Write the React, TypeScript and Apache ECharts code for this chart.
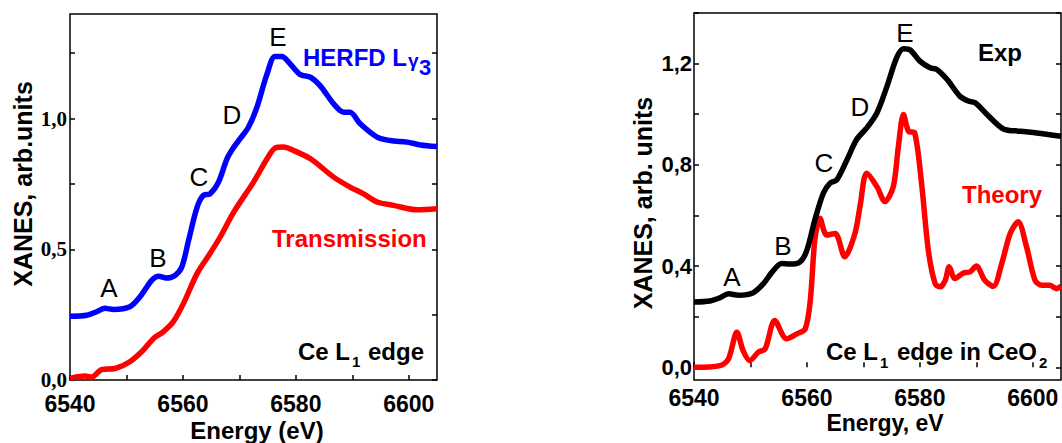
import React, { useEffect, useRef } from 'react';
import * as echarts from 'echarts';

// Left panel: HERFD Lγ3 (blue) and Transmission (red)
const herfdE = [6540, 6543, 6544.7, 6546.2, 6547.7, 6550.6, 6552.4, 6554.5, 6555.7, 6557.1, 6558.6, 6559.8, 6561.0, 6562.5, 6563.6, 6564.8, 6566.3, 6567.8, 6569.0, 6570.1, 6571.6, 6573.1, 6574.9, 6576.3, 6577.5, 6579.0, 6580.8, 6582.6, 6584.3, 6586.7, 6588.5, 6589.6, 6591.4, 6594.4, 6596.7, 6599.7, 6602.1, 6605];
const herfdY = [0.244, 0.248, 0.261, 0.274, 0.27, 0.28, 0.318, 0.382, 0.397, 0.39, 0.40, 0.432, 0.534, 0.66, 0.706, 0.712, 0.757, 0.846, 0.89, 0.922, 0.967, 1.043, 1.171, 1.237, 1.237, 1.209, 1.168, 1.158, 1.126, 1.056, 1.024, 1.024, 0.98, 0.929, 0.916, 0.91, 0.899, 0.893];

const transE = [6540, 6542.7, 6543.8, 6545.6, 6548.0, 6550.6, 6553.0, 6554.8, 6556.5, 6558.3, 6560.1, 6562.5, 6564.8, 6566.6, 6569.0, 6572.5, 6574.9, 6576.3, 6577.8, 6579.6, 6582.6, 6586.7, 6589.6, 6592.0, 6594.4, 6597.3, 6601.5, 6605];
const transY = [0.006, 0.015, 0.011, 0.04, 0.044, 0.07, 0.115, 0.159, 0.184, 0.223, 0.293, 0.407, 0.484, 0.547, 0.642, 0.757, 0.846, 0.887, 0.891, 0.878, 0.846, 0.776, 0.738, 0.712, 0.681, 0.668, 0.651, 0.655];

// Right panel: Exp (black) and Theory (red)
const expE = [6540, 6542.8, 6544.6, 6546.1, 6547.9, 6550.5, 6552.3, 6554.0, 6555.5, 6557.0, 6558.8, 6560.0, 6561.4, 6562.9, 6564.1, 6565.3, 6567.1, 6568.8, 6570.6, 6572.4, 6574.1, 6575.9, 6577.1, 6578.3, 6580.0, 6581.8, 6583.0, 6584.8, 6587.1, 6588.6, 6589.8, 6591.9, 6594.8, 6597.8, 6600.7, 6605];
const expY = [0.258, 0.262, 0.275, 0.291, 0.285, 0.295, 0.331, 0.381, 0.41, 0.408, 0.417, 0.463, 0.582, 0.688, 0.728, 0.741, 0.82, 0.9, 0.946, 1.005, 1.105, 1.224, 1.259, 1.254, 1.21, 1.184, 1.177, 1.138, 1.071, 1.052, 1.045, 0.999, 0.942, 0.933, 0.926, 0.913];

const theoryE = [6540, 6544.6, 6546.1, 6547.6, 6548.7, 6549.9, 6551.4, 6552.6, 6554.3, 6556.4, 6558.2, 6559.7, 6560.6, 6561.4, 6562.3, 6563.5, 6565.0, 6566.7, 6568.5, 6569.4, 6570.6, 6572.4, 6573.8, 6575.3, 6576.2, 6577.1, 6578.0, 6579.1, 6580.3, 6581.5, 6582.7, 6583.6, 6584.5, 6585.2, 6586.2, 6587.7, 6588.9, 6590.0, 6591.5, 6593.0, 6594.5, 6596.0, 6597.4, 6598.9, 6600.4, 6601.6, 6603.0, 6604.2, 6605];
const theoryY = [0.0, 0.007, 0.033, 0.139, 0.066, 0.027, 0.06, 0.073, 0.185, 0.113, 0.132, 0.152, 0.265, 0.503, 0.589, 0.523, 0.529, 0.437, 0.529, 0.635, 0.767, 0.714, 0.655, 0.714, 0.873, 0.999, 0.933, 0.926, 0.728, 0.463, 0.331, 0.318, 0.344, 0.397, 0.351, 0.373, 0.377, 0.4, 0.344, 0.32, 0.41, 0.529, 0.575, 0.476, 0.344, 0.324, 0.324, 0.311, 0.32];

const xTickValues = [6540, 6550, 6560, 6570, 6580, 6590, 6600];
const xLabelValues = [6540, 6560, 6580, 6600];
const leftYTicks = [0, 0.25, 0.5, 0.75, 1.0, 1.25];
const leftYLabels = [0, 0.5, 1.0];
const rightYTicks = [0, 0.2, 0.4, 0.6, 0.8, 1.0, 1.2, 1.4];
const rightYLabels = [0, 0.4, 0.8, 1.2];

const SANS = '"Liberation Sans", Arial, sans-serif';
const SERIF = '"Liberation Serif", "Times New Roman", serif';

const zip = (xs: number[], ys: number[]) => xs.map((x, i) => [x, ys[i]]);
const comma = (v: number) => v.toFixed(1).replace('.', ',');

function txt(text: string, x: number, y: number, size: number, color = '#000', weight: any = 'bold', align = 'left', rotation = 0, family = SANS) {
  return {
    type: 'text', x, y, rotation,
    style: { text, fill: color, fontSize: size, fontWeight: weight, fontFamily: family, align, verticalAlign: 'middle' },
  };
}

export default function App() {
  const ref = useRef<HTMLDivElement>(null);
  useEffect(() => {
    document.body.style.margin = '0';
    const chart = echarts.init(ref.current!, null, { renderer: 'svg' });
    const tick = { inside: true, length: 5, lineStyle: { color: '#000', width: 1.5 } };
    const xAxisBase = (gridIndex: number, margin: number) => ({
      type: 'value', gridIndex, min: 6540, max: 6605,
      axisLine: { show: false },
      splitLine: { show: false },
      axisTick: { ...tick, customValues: xTickValues },
      axisLabel: {
        customValues: xLabelValues, margin,
        formatter: (v: number) => String(Math.round(v)),
        fontSize: 23, fontWeight: 'bold', fontFamily: SANS, color: '#000',
      },
    });
    const yAxisBase = (gridIndex: number, min: number, ticks: number[], labels: number[], family: string, position: string, showLabel: boolean, margin: number, size: number) => ({
      type: 'value', gridIndex, min, max: 1.4, position,
      axisLine: { show: false },
      splitLine: { show: false },
      axisTick: { ...tick, customValues: ticks },
      axisLabel: {
        show: showLabel, customValues: labels, margin,
        formatter: (v: number) => comma(v),
        fontSize: size, fontWeight: 'bold', fontFamily: family, color: '#000',
      },
    });
    const lineSeries = (xi: number, yi: number, data: number[][], color: string, z: number) => ({
      type: 'line', xAxisIndex: xi, yAxisIndex: yi, data, showSymbol: false, smooth: 0.3,
      lineStyle: { color, width: 5.5 }, z, silent: true,
    });

    chart.setOption({
      animation: false,
      grid: [
        { left: 70, top: 14, width: 367, height: 366, show: true, borderColor: '#000', borderWidth: 1.5, backgroundColor: 'transparent' },
        { left: 694, top: 13, width: 367, height: 367, show: true, borderColor: '#000', borderWidth: 1.5, backgroundColor: 'transparent' },
      ],
      xAxis: [xAxisBase(0, 12), xAxisBase(1, 6)],
      yAxis: [
        yAxisBase(0, 0, leftYTicks, leftYLabels, SERIF, 'left', true, 3, 21),
        yAxisBase(0, 0, leftYTicks, leftYLabels, SERIF, 'right', false, 3, 21),
        yAxisBase(1, -0.05, rightYTicks, rightYLabels, SANS, 'left', true, 2, 22),
        yAxisBase(1, -0.05, rightYTicks, rightYLabels, SANS, 'right', false, 2, 22),
      ],
      series: [
        lineSeries(0, 0, zip(transE, transY), '#ff0000', 2),
        lineSeries(0, 0, zip(herfdE, herfdY), '#0000ff', 3),
        lineSeries(1, 2, zip(theoryE, theoryY), '#ff0000', 2),
        lineSeries(1, 2, zip(expE, expY), '#000000', 3),
      ],
      graphic: [
        // axis titles
        txt('XANES, arb.units', 23, 184, 25, '#000', 'bold', 'center', Math.PI / 2),
        txt('XANES, arb. units', 643, 203, 25, '#000', 'bold', 'center', Math.PI / 2),
        txt('Energy (eV)', 257, 430, 24, '#000', 'bold', 'center'),
        txt('Energy, eV', 885, 423, 23, '#000', 'bold', 'center'),
        // left annotations
        txt('A', 109, 288, 26, '#000', 'normal', 'center'),
        txt('B', 158, 258, 26, '#000', 'normal', 'center'),
        txt('C', 199, 177, 26, '#000', 'normal', 'center'),
        txt('D', 232, 115, 26, '#000', 'normal', 'center'),
        txt('E', 278, 37, 26, '#000', 'normal', 'center'),
        txt('HERFD L', 303, 57, 24, '#0000ff'),
        txt('γ', 408, 60, 19, '#0000ff'),
        txt('3', 419, 67, 22, '#0000ff'),
        txt('Transmission', 272, 238, 24, '#ff0000'),
        txt('Ce L', 298, 351, 24),
        txt('1', 352, 361, 15),
        txt('edge', 368, 351, 24),
        // right annotations
        txt('A', 732, 277, 26, '#000', 'normal', 'center'),
        txt('B', 783, 246, 26, '#000', 'normal', 'center'),
        txt('C', 824, 163, 26, '#000', 'normal', 'center'),
        txt('D', 860, 107, 26, '#000', 'normal', 'center'),
        txt('E', 905, 33, 26, '#000', 'normal', 'center'),
        txt('Exp', 978, 52, 24),
        txt('Theory', 962, 194, 24, '#ff0000'),
        txt('Ce L', 826, 351, 24),
        txt('1', 880, 362, 15),
        txt('edge in CeO', 897, 351, 24),
        txt('2', 1039, 362, 15),
      ],
    });
    return () => chart.dispose();
  }, []);
  return <div ref={ref} style={{ width: 1062, height: 443 }} />;
}
